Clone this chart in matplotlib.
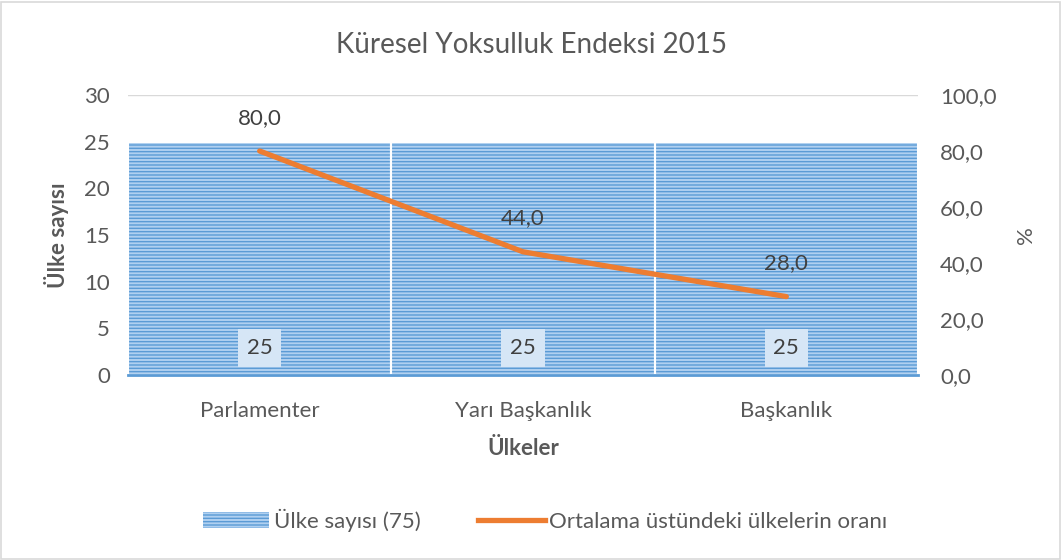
import matplotlib
matplotlib.use("Agg")
import matplotlib.pyplot as plt
from matplotlib.patches import Rectangle
from matplotlib.lines import Line2D
from matplotlib.patches import Patch

categories = ["Parlamenter", "Yarı Başkanlık", "Başkanlık"]
country_counts = [25, 25, 25]
above_avg_pct = [80.0, 44.0, 28.0]
left_ticks = [0, 5, 10, 15, 20, 25, 30]
right_ticks = [0, 20, 40, 60, 80, 100]

title = "Küresel Yoksulluk Endeksi 2015"
bar_label = "Ülke sayısı (75)"
line_label = "Ortalama üstündeki ülkelerin oranı"

FONT = "Lato"
TXT = "#595959"
FS = 16
plt.rcParams["font.family"] = [FONT, "DejaVu Sans"]
plt.rcParams["hatch.linewidth"] = 1.0

BAR_FACE = "#B0D0F0"
HATCH_COL = "#5B9BD5"
HATCH = "-----"

fig = plt.figure(figsize=(10.62, 5.6), dpi=100)
ax = fig.add_axes([128/1062, 1-375/560, (918-128)/1062, 280/560])

x = list(range(len(categories)))
ax.set_axisbelow(True)
ax.yaxis.grid(True, color="#D9D9D9", linewidth=1)
ax.bar(x, country_counts, width=1.0, facecolor=BAR_FACE, edgecolor=HATCH_COL,
       linewidth=0, hatch=HATCH, zorder=2)
ax.bar(x, country_counts, width=1.0, fill=False, edgecolor="white",
       linewidth=1.5, zorder=2.5)
ax.set_xlim(-0.5, len(categories)-0.5)
ax.set_ylim(0, 30)
ax.set_yticks(left_ticks)
ax.set_xticks(x)
ax.set_xticklabels(categories)
for s in ["top", "right", "left"]:
    ax.spines[s].set_visible(False)
ax.spines["bottom"].set_color("#5B9BD5")
ax.spines["bottom"].set_linewidth(2)
ax.tick_params(axis="both", length=0, colors=TXT, labelsize=FS)
ax.tick_params(axis="x", pad=19)
ax.tick_params(axis="y", pad=13)
for lab in ax.get_xticklabels() + ax.get_yticklabels():
    lab.set_color(TXT)

for xi, v in zip(x, country_counts):
    ax.text(xi, 2.9, f"{v}", ha="center", va="center", fontsize=FS, color="#404040",
            zorder=5,
            bbox=dict(boxstyle="square,pad=0.4", facecolor="#D6E6F6", edgecolor="none"))

ax.set_ylabel("Ülke sayısı", fontsize=FS, fontweight="bold", color=TXT, labelpad=11)
ax.set_xlabel("Ülkeler", fontsize=FS, fontweight="bold", color=TXT, labelpad=12)

ax2 = ax.twinx()
ax2.plot(x, above_avg_pct, color="#ED7D31", linewidth=3.8, solid_capstyle="round", zorder=4)
ax2.set_ylim(0, 100)
ax2.set_yticks(right_ticks)
ax2.set_yticklabels([f"{t:.1f}".replace(".", ",") for t in right_ticks])
ax2.tick_params(axis="y", length=0, colors=TXT, labelsize=FS, pad=16)
for s in ["top", "right", "left", "bottom"]:
    ax2.spines[s].set_visible(False)
ax2.set_ylabel("%", fontsize=FS, color=TXT, labelpad=14)
for xi, v in zip(x, above_avg_pct):
    ax2.annotate(f"{v:.1f}".replace(".", ","), (xi, v), xytext=(0, 24),
                 textcoords="offset points", ha="center", va="center",
                 fontsize=FS, color="#404040")

fig.text(531/1062, 1-45/560, title, ha="center", va="center", fontsize=20, color=TXT)

handles = [Patch(facecolor=BAR_FACE, edgecolor=HATCH_COL, linewidth=0, hatch=HATCH),
           Line2D([], [], color="#ED7D31", linewidth=3.8)]
fig.legend(handles, [bar_label, line_label], loc="center", bbox_to_anchor=(545/1062, 1-520/560),
           ncol=2, frameon=False, fontsize=FS, labelcolor=TXT, handlelength=3.0,
           columnspacing=2.6, handletextpad=0.2)

fig.add_artist(Rectangle((0.001, 0.002), 0.997, 0.995, transform=fig.transFigure,
                         fill=False, edgecolor="#D9D9D9", linewidth=1.2))

fig.savefig("out.png", dpi=100, facecolor="white")
